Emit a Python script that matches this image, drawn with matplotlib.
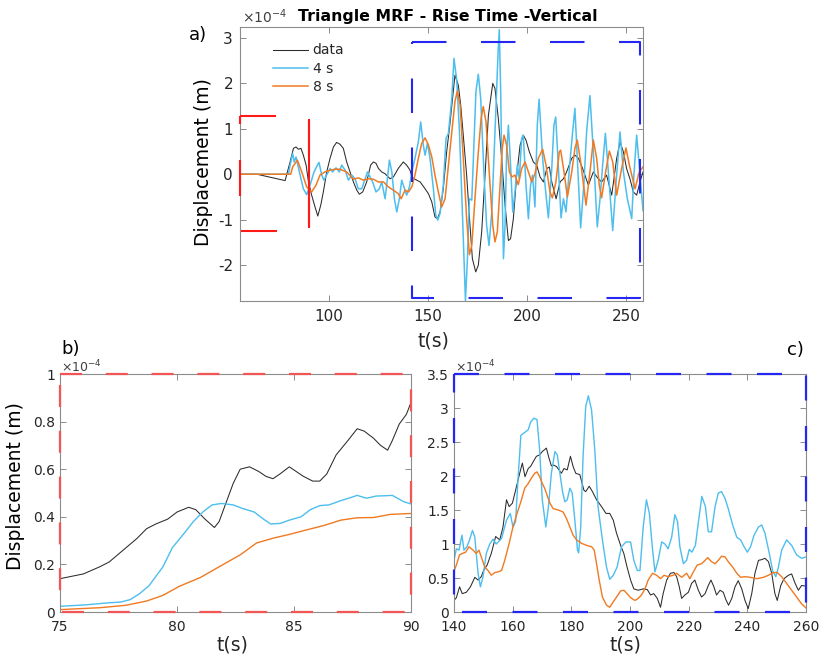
import matplotlib
matplotlib.use('Agg')
import matplotlib.pyplot as plt
from matplotlib.lines import Line2D
from matplotlib.ticker import FuncFormatter

plt.rcParams['font.family'] = ['DejaVu Sans']
plt.rcParams['axes.unicode_minus'] = False
plt.rcParams['lines.scale_dashes'] = False

# ---------------- data (displacement in units of 1e-4 m) ----------------
# panel a) full seismograms
a_t_data = [55, 63.5, 77.8, 80.3, 82, 83.3, 84.5, 85.8, 87, 88.4, 89.6, 91.2, 92.9, 94.3, 95.8, 97.1,
            98.8, 100.5, 102.2, 103.8, 105.5, 107.2, 108.9, 110.6, 112.3, 114, 115.3, 117, 119, 121,
            122.4, 123.7, 124.9, 126.6, 128.3, 130.8, 132.5, 135, 137.5, 139.2, 140.9, 141.8, 143.4,
            146, 148.5, 150.2, 151.9, 153.5, 154.7, 156.1, 157.7, 159.4, 161, 163.6, 165.3, 166.5,
            167.8, 169.5, 171.2, 172.4, 174.1, 175.4, 177.1, 178.8, 180.5, 182.7, 183.8, 185.5, 187.2,
            188.9, 190.6, 191.7, 193.1, 194.8, 196.5, 198.1, 199.5, 201.2, 203.2, 204.9, 206.6, 208.3,
            210, 211.3, 212.5, 214.7, 216.7, 218.4, 220, 222.6, 224.2, 226, 228.1, 231, 233.5, 236,
            237.7, 240.2, 242.8, 245.3, 247, 248.7, 250.3, 252, 253.7, 255.4, 257.1, 258.6]
a_v_data = [0, 0, -0.14, 0.27, 0.57, 0.6, 0.55, 0.57, 0.42, 0.2, -0.17, -0.46, -0.72, -0.92, -0.68, -0.39,
            0.05, 0.35, 0.6, 0.7, 0.66, 0.57, 0.27, 0.05, -0.17, -0.35, -0.44, -0.39, -0.17, 0.2,
            0.27, 0.24, 0.13, 0.05, 0.01, -0.1, -0.06, 0.13, 0.27, 0.2, 0.09, -0.06, -0.11,
            -0.17, -0.32, -0.43, -0.61, -0.94, -0.98, -0.83, -0.32, 0.49, 1.08, 2.18, 1.96, 1.52,
            0.86, -0.02, -1.125, -1.86, -2.15, -2.0, -1.27, -0.02, 1.3, 2.0, 1.89, 1.23, 0.35,
            -0.68, -1.46, -1.42, -0.98, -0.02, 0.64, 0.86, 0.75, 0.49, 0.27, 0.2, -0.06, -0.17,
            0.125, 0.16, -0.17, -0.54, -0.17, -0.1, 0.05, 0.35, 0.42, 0.35, 0.125, -0.24, 0.05, -0.1,
            -0.17, -0.02, -0.46, 0.35, 0.71, 0.49, 0.125, -0.1, -0.39, -0.46, -0.17, 0.05]

a_t_4s = [55, 79.5, 80.3, 81.6, 82.4, 83.3, 85, 87, 88.7, 90.4, 92.4, 94.1, 94.9, 96.3, 97.4, 99.1,
          100.5, 101.8, 103.5, 105.2, 106.4, 108.1, 109.8, 111.5, 113.1, 114.8, 116.5, 118.2, 119.4,
          120.7, 122, 123.7, 125.4, 126.6, 128.3, 129.1, 130.5, 131.7, 133, 134.2, 135.5, 136.7,
          138.1, 139.2, 140.6, 141.8, 143.4, 145.1, 146.3, 147.6, 148.5, 149.7, 151, 152.7, 153.9,
          154.9, 156.1, 157.7, 159.1, 160.3, 162, 163.1, 164.5, 165.8, 167, 168.2, 168.9, 169.9,
          170.9, 172.1, 172.9, 174.2, 175.4, 176.6, 178.3, 179.6, 180.8, 182.2, 183.3, 184.3, 185.4,
          186, 186.7, 187.4, 188.1, 188.9, 189.7, 190.6, 191.7, 192.8, 193.9, 195.1, 196.1, 197.3,
          198.1, 199.5, 200.7, 201.8, 202.8, 204, 205.2, 206.1, 207.9, 209.1, 210.8, 212.5, 213.6,
          214.5, 215.8, 217.2, 218.4, 219.7, 221.4, 222.9, 224.2, 225.6, 227.1, 228.8, 230.1, 231.8,
          233.5, 235.5, 236.9, 238.2, 239.6, 241.1, 243.3, 245, 247, 248.7, 250.7, 252.9, 254, 255.4,
          257.1, 258.6]
a_v_4s = [0, 0, 0.2, 0.46, 0.27, 0.38, 0.05, -0.32, -0.45, -0.24, 0.05, 0.2, 0.26, -0.02, -0.13, 0.01,
          0.125, 0.05, 0.14, 0.05, 0.2, 0.09, -0.13, -0.02, -0.1, -0.32, -0.32, -0.1, 0.05,
          -0.06, -0.17, -0.39, -0.32, -0.17, -0.54, -0.24, 0.31, 0.05, -0.54, -0.83, -0.54, -0.13,
          -0.32, -0.46, -0.28, 0.05, 0.35, 0.71, 1.15, 0.64, 0.42, 0.68, 0.35, -0.32, -0.9,
          -1.01, -0.86, -0.24, 0.79, 0.9, 1.67, 2.55, 2.07, 1.0, -0.39, -1.86, -2.78, -1.86,
          -0.54, -0.57, 0.35, 1.82, 2.2, 1.67, -0.02, -1.125, -1.57, -0.83, 0.35, 1.45, 2.7,
          3.18, 1.82, -0.24, -1.86, -1.125, 0.49, 1.08, 0.2, -0.83, -0.39, 0.2, -0.1, 0.79,
          0.86, -0.24, -0.98, -0.24, -0.02, -0.72, 1.08, 1.65, 0.35, -0.24, -0.96, 0.125, 1.08,
          1.26, 0.2, -0.96, -0.54, -0.83, 0.125, 0.86, 1.45, 0.2, -1.18, -0.17, 0.93, 1.73,
          0.49, -1.16, -0.54, 0.2, 0.9, 0.05, -1.24, -0.17, 0.93, 0.05, -0.54, -0.98, -0.02, 0.86,
          -0.02, -0.8]

a_t_8s = [55, 80.6, 81.6, 84, 86.2, 88.7, 91.2, 93.4, 95.4, 97.9, 100.5, 103, 105.5, 108.9, 112.3,
          114.8, 117.3, 119.9, 122.4, 124.9, 127.5, 130, 132.5, 135, 136.4, 138.4, 140.1, 141.8,
          143.4, 145.1, 146.8, 148.5, 150.2, 151.9, 153.5, 155.2, 156.9, 158.6, 160.3, 162, 163.6,
          164.8, 166.2, 167.8, 169.5, 170.9, 172.1, 173.7, 175.4, 176.8, 177.9, 179.3, 181, 182.7,
          183.8, 185, 186.4, 187.5, 188.4, 189.7, 191.1, 192.3, 193.9, 195.6, 197.3, 199, 200.7,
          202.4, 204, 205.7, 207.9, 209.6, 211.6, 212.8, 214.6, 216.3, 217, 218.7, 220.4, 222.6,
          224.2, 225.4, 227.1, 229, 229.8, 231.8, 233.5, 235.2, 236.5, 237.7, 239.7, 241.6, 243.3,
          245.3, 247.8, 250, 251.7, 254.6, 256.7, 258.6]
a_v_8s = [0, 0, 0.16, 0.31, 0.05, -0.28, -0.39, -0.24, -0.02, 0.05, 0.09, 0.11, 0.11, 0.05, -0.11,
          -0.08, -0.13, -0.1, -0.11, -0.17, -0.17, -0.28, -0.35, -0.43, -0.54, -0.35, -0.39, -0.28,
          -0.02, 0.35, 0.68, 0.8, 0.64, 0.38, -0.02, -0.39, -0.72, -0.54, 0.2, 0.93, 1.6,
          1.83, 1.52, 0.35, -0.98, -1.77, -1.57, -0.54, 0.49, 1.23, 1.49, 1.15, -0.02, -1.125,
          -1.49, -1.27, -0.24, 0.57, 0.86, 0.64, 0.05, -0.06, -0.02, -0.23, 0.125, 0.27, 0.05,
          -0.17, 0.01, 0.35, 0.55, 0.2, -0.39, -0.52, -0.17, 0.49, 0.53, 0.05, -0.5, 0.05,
          0.57, 0.75, 0.27, -0.39, -0.68, 0.05, 0.75, 0.35, -0.24, -0.52, 0.05, 0.51, 0.27,
          -0.46, 0.125, 0.58, 0.2, -0.32, 0.05, 0.16]

# panel b) 75-90 s window
b_t_data = [75, 76, 76.7, 77.1, 77.7, 78.3, 78.7, 79.1, 79.6, 80, 80.5, 80.8, 81.2, 81.6, 81.8, 82.1,
            82.4, 82.7, 83.1, 83.5, 83.8, 84.1, 84.4, 84.8, 85.1, 85.4, 85.8, 86.1, 86.4, 86.8, 87.3,
            87.7, 88, 88.4, 88.7, 89, 89.2, 89.5, 89.8, 90]
b_v_data = [0.14, 0.16, 0.19, 0.21, 0.26, 0.31, 0.35, 0.37, 0.39, 0.42, 0.44, 0.43, 0.39, 0.355, 0.38, 0.46,
            0.54, 0.6, 0.61, 0.59, 0.57, 0.56, 0.58, 0.61, 0.59, 0.57, 0.55, 0.55, 0.58, 0.66, 0.72,
            0.77, 0.76, 0.73, 0.70, 0.68, 0.72, 0.79, 0.83, 0.88]
b_t_4s = [75, 76.1, 77, 77.6, 78, 78.4, 78.8, 79.1, 79.4, 79.8, 80.3, 80.7, 81.1, 81.5, 81.9, 82.4, 82.8,
          83.3, 83.7, 84, 84.4, 84.8, 85.3, 85.7, 86.1, 86.5, 87, 87.4, 87.7, 88.1, 88.5, 89, 89.2,
          89.7, 90]
b_v_4s = [0.024, 0.03, 0.038, 0.042, 0.052, 0.077, 0.11, 0.15, 0.19, 0.27, 0.33, 0.38, 0.42, 0.45, 0.456,
          0.45, 0.435, 0.42, 0.39, 0.37, 0.372, 0.386, 0.40, 0.43, 0.447, 0.45, 0.468, 0.48, 0.49,
          0.478, 0.487, 0.489, 0.49, 0.463, 0.454]
b_t_8s = [75, 76.7, 77.8, 78.7, 79.4, 80.1, 81, 81.8, 82.7, 83.4, 84.1, 84.8, 85.5, 86.3, 87, 87.7, 88.4,
          89.1, 90]
b_v_8s = [0.01, 0.018, 0.028, 0.046, 0.07, 0.108, 0.145, 0.19, 0.24, 0.29, 0.31, 0.326, 0.344, 0.364,
          0.386, 0.396, 0.397, 0.41, 0.414]

# panel c) 140-260 s window
c_t_data = [140, 140.8, 141.9, 142.8, 144.2, 145.6, 147.1, 148.2, 149.3, 150.1, 151.3, 152.7, 154.2,
            155.6, 156.7, 157.9, 158.8, 159.9, 161, 162.4, 163.3, 164.2, 165.3, 166.1, 167, 168.1,
            169.2, 170.1, 171.5, 172.4, 173.2, 174, 174.9, 175.8, 176.6, 177.5, 178.6, 179.7, 180.6,
            181.5, 182.9, 184.3, 184.9, 186.1, 187.2, 188.6, 190.3, 191.8, 193.1, 194.3, 195.4, 196.8,
            197.9, 199, 200.2, 201.3, 202.8, 204.5, 205.9, 207, 208.1, 209.3, 210.4, 211.3, 212.5,
            213.8, 215, 215.9, 216.8, 217.6, 218.7, 219.9, 221, 222.1, 223.3, 224.4, 225.6, 226.7,
            227.6, 228.6, 229.5, 230.7, 231.8, 232.7, 233.6, 234.7, 235.8, 236.9, 238.1, 239.2, 240.3,
            241.5, 242.6, 243.8, 244.9, 246, 247.2, 248.3, 249.4, 250.2, 251.4, 252.5, 254, 255.1,
            256.3, 257.4, 258.5, 260]
c_v_data = [0.17, 0.21, 0.37, 0.27, 0.29, 0.37, 0.51, 0.47, 0.52, 0.61, 0.69, 0.86, 1.11,
            1.06, 1.25, 1.65, 1.55, 1.6, 1.79, 2.04, 2.19, 1.99, 2.11, 2.14, 2.21, 2.29,
            2.31, 2.36, 2.41, 2.26, 2.15, 2.16, 2.14, 2.09, 2.04, 2.11, 2.09, 2.29, 2.14,
            2.04, 2.02, 1.79, 1.77, 1.85, 1.77, 1.65, 1.55, 1.45, 1.45, 1.35, 1.16, 0.98,
            0.86, 0.66, 0.47, 0.34, 0.32, 0.34, 0.33, 0.25, 0.27, 0.2, 0.07, 0.27, 0.47,
            0.57, 0.58, 0.52, 0.37, 0.2, 0.25, 0.29, 0.42, 0.47, 0.32, 0.22, 0.27, 0.39,
            0.47, 0.37, 0.25, 0.32, 0.29, 0.18, 0.1, 0.2, 0.37, 0.46, 0.34, 0.17, 0.05,
            0.27, 0.57, 0.76, 0.77, 0.79, 0.74, 0.57, 0.27, 0.17, 0.39, 0.49, 0.54, 0.56,
            0.42, 0.32, 0.39, 0.38]
c_t_4s = [140, 140.8, 141.7, 142.7, 143.4, 144.4, 145.3, 146.3, 147.1, 147.6, 148.2, 149, 149.9, 151,
          152.2, 153.3, 154.4, 156.2, 157.9, 159.2, 160.1, 161, 161.8, 162.8, 164.1, 165.3, 166.1,
          167.2, 168.3, 169.2, 170.1, 171.3, 172.2, 173.2, 174.4, 175.2, 176.1, 177, 177.8, 178.6,
          179.5, 180.3, 181.2, 182.1, 182.5, 183.2, 184, 184.9, 185.8, 186.9, 188, 189.1, 190.6, 192,
          193.1, 194.3, 195.6, 197.1, 198.6, 200.2, 201.3, 202.5, 203.4, 204.5, 205.6, 206.6, 207.6,
          208.5, 209.6, 210.8, 211.9, 213, 214.2, 215.3, 216.2, 217, 218.2, 219.3, 220.2, 221.1,
          222.3, 223.4, 224.5, 225.7, 226.7, 227.8, 229, 230.1, 231.2, 232.4, 233.5, 235, 236.4,
          237.7, 238.9, 240, 241.1, 242.3, 243.8, 244.9, 246, 247.5, 248.6, 249.7, 250.6, 251.7,
          253.4, 255.1, 256.8, 258.5, 260]
c_v_4s = [0.76, 0.93, 0.91, 1.13, 0.91, 0.96, 1.06, 1.2, 1.1, 0.86, 0.57, 0.37, 0.52, 0.86,
          1.0, 1.07, 1.0, 1.08, 1.35, 1.45, 1.25, 1.33, 1.94, 2.6, 2.64, 2.68, 2.79,
          2.85, 2.83, 2.38, 1.65, 1.25, 1.55, 2.04, 2.36, 2.31, 2.04, 1.77, 1.62, 1.65,
          1.82, 1.75, 1.35, 0.91, 0.87, 1.25, 2.29, 3.02, 3.18, 2.97, 2.38, 1.55, 1.06, 0.66,
          0.48, 0.54, 0.66, 0.96, 1.03, 1.03, 0.76, 0.61, 0.61, 1.25, 1.65, 1.45, 0.96,
          0.59, 0.76, 1.03, 1.0, 0.93, 1.1, 1.43, 1.33, 0.96, 0.71, 0.76, 0.92, 0.88,
          0.98, 1.35, 1.7, 1.55, 1.18, 1.18, 1.55, 1.75, 1.77, 1.67, 1.52, 1.28, 1.1,
          1.06, 0.96, 0.88, 0.96, 1.13, 1.25, 1.28, 1.16, 0.86, 0.61, 0.52, 0.66, 0.91,
          1.06, 0.98, 0.84, 0.79, 0.81]
c_t_8s = [140, 140.8, 141.9, 142.8, 144, 145.1, 146.5, 147.6, 148.5, 149.3, 150.5, 151.6, 152.7, 153.9,
          155, 156.2, 157.3, 158.8, 160.1, 161.5, 163, 164.1, 165.3, 166.4, 167.5, 168.3, 169.2,
          170.1, 170.9, 171.7, 172.7, 173.8, 175.5, 177.2, 178.3, 179.5, 180.6, 181.8, 183.5, 185.2,
          186.9, 187.8, 188.6, 189.5, 190.6, 192, 193.1, 194.3, 195.4, 196.8, 197.9, 199, 200.2,
          201.7, 202.8, 203.9, 205.1, 206.2, 207.7, 209.1, 210.4, 211.6, 213, 214.7, 215.9, 217.6,
          219.3, 220.4, 221.6, 222.9, 224.4, 225.6, 226.5, 227.8, 229, 230.1, 231.2, 232.4, 233.5,
          235, 236.4, 237.7, 239.2, 240.9, 243.2, 245.5, 247.2, 248.9, 250.2, 251.7, 253.4, 255.1,
          256.8, 258.5, 260]
c_v_8s = [0.6, 0.69, 0.84, 0.86, 0.88, 0.96, 0.91, 0.86, 0.91, 0.81, 0.66, 0.61, 0.54, 0.58,
          0.59, 0.61, 0.76, 1.01, 1.25, 1.45, 1.65, 1.82, 1.89, 1.97, 2.04, 2.06, 1.99,
          1.89, 1.82, 1.72, 1.6, 1.52, 1.5, 1.47, 1.38, 1.25, 1.13, 1.06, 1.01, 0.98,
          0.96, 0.91, 0.71, 0.47, 0.22, 0.1, 0.07, 0.15, 0.22, 0.31, 0.32, 0.27, 0.21,
          0.17, 0.2, 0.25, 0.34, 0.47, 0.57, 0.54, 0.49, 0.54, 0.52, 0.54, 0.57, 0.51,
          0.57, 0.49, 0.59, 0.69, 0.71, 0.76, 0.8, 0.74, 0.71, 0.76, 0.82, 0.81, 0.74,
          0.66, 0.57, 0.51, 0.52, 0.51, 0.49, 0.51, 0.54, 0.58, 0.58, 0.52, 0.42, 0.32,
          0.22, 0.12, 0.06]

labels = ['data', '4 s', '8 s']
a_xticks = [100, 150, 200, 250]
a_yticks = [-2, -1, 0, 1, 2, 3]
b_xticks = [75, 80, 85, 90]
b_yticks = [0, 0.2, 0.4, 0.6, 0.8, 1]
c_xticks = [140, 160, 180, 200, 220, 240, 260]
c_yticks = [0, 0.5, 1, 1.5, 2, 2.5, 3, 3.5]

# time windows marked in panel a (s, 1e-4 m)
RED_WIN = (55, 90, -1.24, 1.28)
BLUE_WIN = (141.9, 257.1, -2.72, 2.9)

# ---------------- styling ----------------
W, H = 822, 659
C_DATA = '#2b2b2b'
C_4S = '#4DBEEE'
C_8S = '#F07A22'
C_RED = '#FF1A1A'
C_BLUE = '#2626F2'
SPINE = '#8c8c8c'
TXT = '#262626'

fig = plt.figure(figsize=(W / 100, H / 100), dpi=100)


def ax_px(l, t, r, b):
    return fig.add_axes([l / W, 1 - b / H, (r - l) / W, (b - t) / H])


def ftext(x, y, s, **kw):
    fig.text(x / W, 1 - y / H, s, **kw)


def style(ax, fs, xpad, ypad):
    for s in ax.spines.values():
        s.set_color(SPINE)
        s.set_linewidth(0.8)
    ax.tick_params(direction='in', length=4, width=0.7, color=SPINE, labelcolor=TXT,
                   labelsize=fs, top=True, right=True)
    ax.tick_params(axis='x', pad=xpad)
    ax.tick_params(axis='y', pad=ypad)


def dashed_path(ax, xs, ys, color, on_px, off_px, lw, transform=None):
    ln = Line2D(xs, ys, color=color, lw=lw, linestyle=(0, (on_px * 0.72, off_px * 0.72)),
                clip_on=False, zorder=6, dash_capstyle='butt',
                transform=transform if transform is not None else ax.transData)
    ax.add_line(ln)


def box_xy(x0, x1, y0, y1):
    return [x0, x1, x1, x0, x0], [y1, y1, y0, y0, y1]


fmt = FuncFormatter(lambda v, p: ('%g' % v))

# ---- panel a
axA = ax_px(240, 27, 643, 301)
l1, = axA.plot(a_t_data, a_v_data, color=C_DATA, lw=0.75)
l2, = axA.plot(a_t_4s, a_v_4s, color=C_4S, lw=1.1)
l3, = axA.plot(a_t_8s, a_v_8s, color=C_8S, lw=1.1)
axA.set_xlim(55, 258.6)
axA.set_ylim(-2.79, 3.24)
axA.set_xticks(a_xticks)
axA.set_yticks(a_yticks)
axA.yaxis.set_major_formatter(fmt)
style(axA, 11, 6, 5)
xs, ys = box_xy(*RED_WIN)
dashed_path(axA, xs, ys, C_RED, 36, 36, 1.5)
axA.plot([RED_WIN[1], RED_WIN[1]], [RED_WIN[2] + 0.05, RED_WIN[3] - 0.1], color=C_RED, lw=1.5,
         zorder=6, solid_capstyle='butt')
xs, ys = box_xy(*BLUE_WIN)
dashed_path(axA, xs, ys, C_BLUE, 34.5, 34.5, 1.5)
axA.set_xlabel('t(s)', fontsize=13.5, color=TXT)
axA.xaxis.set_label_coords(0.481, -0.112)
axA.set_ylabel('Displacement (m)', fontsize=13.5, color='black')
axA.yaxis.set_label_coords(-0.066, 0.508)
leg = axA.legend([l1, l2, l3], labels, loc='upper left', bbox_to_anchor=(0.081, 0.94),
                 frameon=False, fontsize=10, handlelength=2.57, handletextpad=0.3,
                 labelspacing=0.3, borderpad=0, borderaxespad=0)
for t in leg.get_texts():
    t.set_color(TXT)

# ---- panel b
axB = ax_px(60, 374, 411, 612)
axB.plot(b_t_data, b_v_data, color=C_DATA, lw=0.75)
axB.plot(b_t_4s, b_v_4s, color=C_4S, lw=1.0)
axB.plot(b_t_8s, b_v_8s, color=C_8S, lw=1.0)
axB.set_xlim(75, 90)
axB.set_ylim(0, 1)
axB.set_xticks(b_xticks)
axB.set_yticks(b_yticks)
axB.yaxis.set_major_formatter(fmt)
style(axB, 10, 5.5, 3.5)
xs, ys = box_xy(0, 1, 0, 1)
dashed_path(axB, xs, ys, '#F25555', 22, 23.8, 1.6, transform=axB.transAxes)
axB.set_xlabel('t(s)', fontsize=13.5, color=TXT)
axB.xaxis.set_label_coords(0.491, -0.1)
axB.set_ylabel('Displacement (m)', fontsize=13.5, color='black')
axB.yaxis.set_label_coords(-0.0997, 0.53)

# ---- panel c
axC = ax_px(454, 374, 806, 612)
axC.plot(c_t_data, c_v_data, color=C_DATA, lw=0.75)
axC.plot(c_t_4s, c_v_4s, color=C_4S, lw=1.0)
axC.plot(c_t_8s, c_v_8s, color=C_8S, lw=1.0)
axC.set_xlim(140, 260)
axC.set_ylim(0, 3.5)
axC.set_xticks(c_xticks)
axC.set_yticks(c_yticks)
axC.yaxis.set_major_formatter(fmt)
style(axC, 10, 5.5, 3.5)
xs, ys = box_xy(0, 1, 0, 1)
dashed_path(axC, xs, ys, C_BLUE, 25, 25.5, 1.6, transform=axC.transAxes)
axC.set_xlabel('t(s)', fontsize=13.5, color=TXT)
axC.xaxis.set_label_coords(0.486, -0.1)

# ---- texts
ftext(447.5, 16, 'Triangle MRF - Rise Time -Vertical', ha='center', va='center',
      fontsize=11.3, fontweight='bold', color='black')
ftext(242, 23.5, r'$\times10^{-4}$', ha='left', va='baseline', fontsize=10, color='#404040')
ftext(61, 372.5, r'$\times10^{-4}$', ha='left', va='baseline', fontsize=9, color='#404040')
ftext(455, 372.5, r'$\times10^{-4}$', ha='left', va='baseline', fontsize=9, color='#404040')
ftext(198, 35, 'a)', ha='center', va='center', fontsize=13, color='black')
ftext(71, 349.5, 'b)', ha='center', va='center', fontsize=13, color='black')
ftext(795, 350, 'c)', ha='center', va='center', fontsize=13, color='black')

fig.savefig('out.png', dpi=100)
